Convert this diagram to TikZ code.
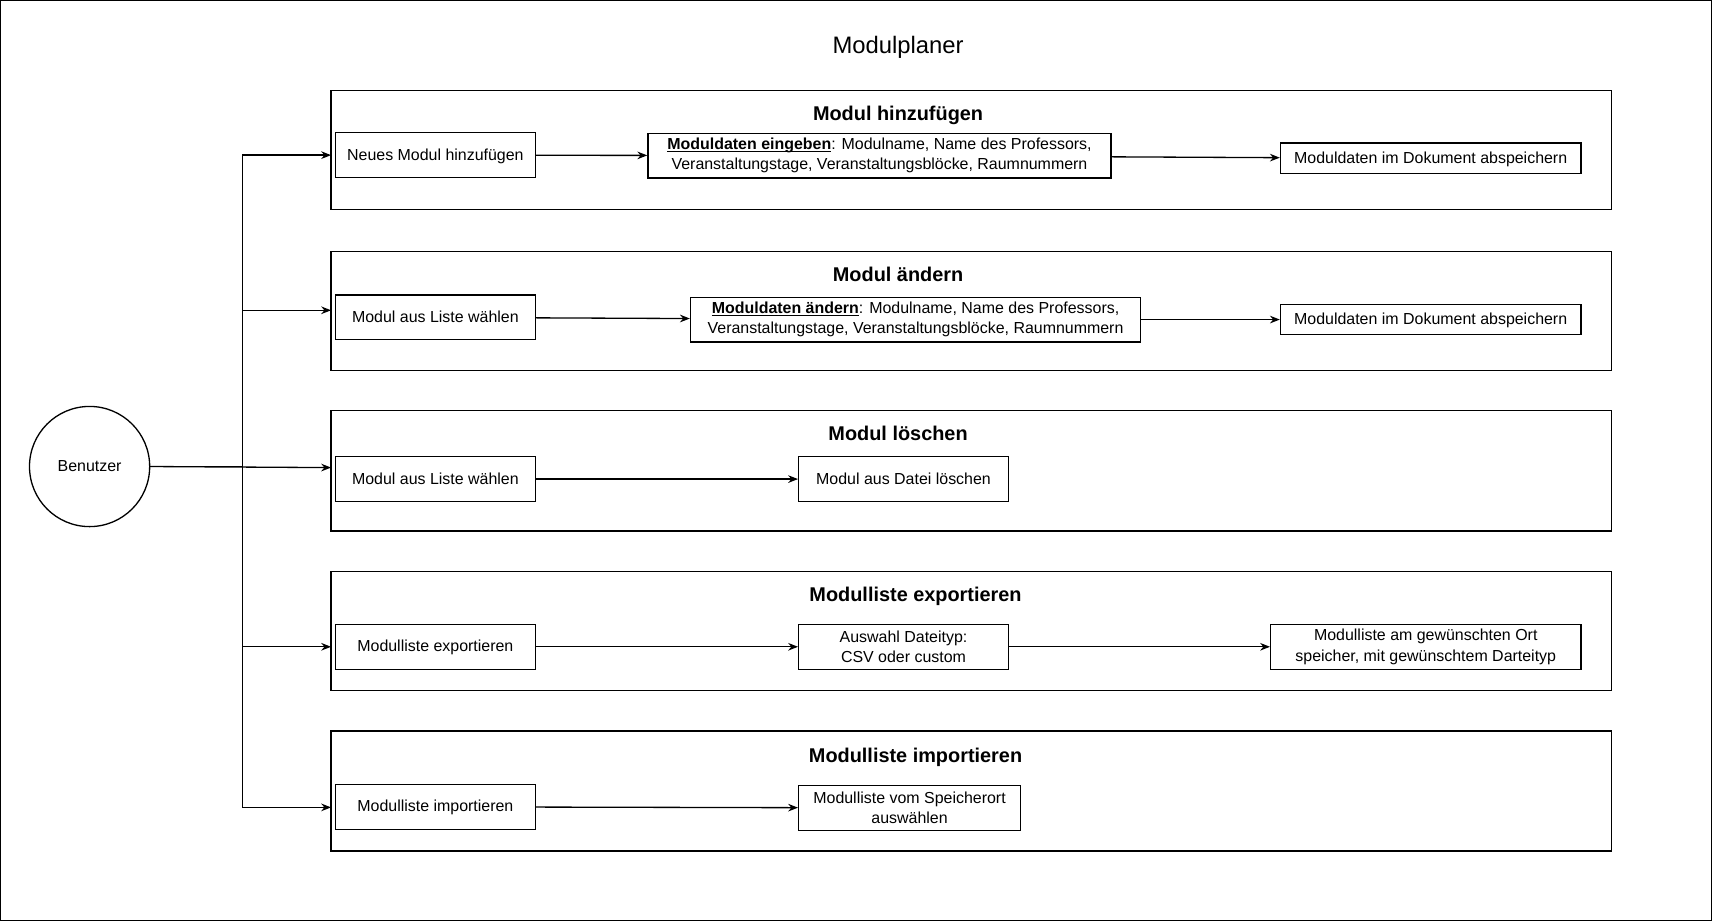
\documentclass[tikz,border=0pt]{standalone}
\usepackage{fontspec}
\setmainfont{Liberation Sans}
\usetikzlibrary{shapes, calc, arrows.meta, positioning}

\newcommand\ulbold[1]{\underline{\smash{\textbf{#1}}}}
\newcommand\topstrut{\rule{0pt}{14.5pt}}

\begin{document}
\begin{tikzpicture}[x=1pt, y=-1pt, line width=1.2pt, >={Stealth[length=9pt, width=7pt]},
    font=\fontsize{14.6}{18.5}\selectfont,
    box/.style={draw, rectangle, inner sep=0pt, align=center, minimum width=183pt, minimum height=41pt,
                execute at begin node=\topstrut},
    oneline/.style={text height=0.92em, text depth=0pt},
    sectitle/.style={font=\fontsize{18.2}{22}\selectfont\bfseries, oneline}]
    \useasboundingbox (0,0) rectangle (1567,843);
    \draw (0.7,0.7) rectangle (1566.3,842.3);

    \coordinate (a01) at ( 303, 83);
    \coordinate (a02) at (1475,192);
    \coordinate (a03) at ( 303,230);
    \coordinate (a04) at (1475,339);
    \coordinate (a05) at ( 303,376);
    \coordinate (a06) at (1475,486);
    \coordinate (a07) at ( 303,523);
    \coordinate (a08) at (1475,632);
    \coordinate (a09) at ( 303,669);
    \coordinate (a10) at (1475,779);

    \coordinate (e1) at (303,142);
    \coordinate (e2) at (303,284);
    \coordinate (e3) at (303,428);
    \coordinate (e4) at (303,592);
    \coordinate (e5) at (303,739);
    \coordinate (k)  at (222,427);

    \draw (a01) rectangle (a02);
    \draw (a03) rectangle (a04);
    \draw (a05) rectangle (a06);
    \draw (a07) rectangle (a08);
    \draw (a09) rectangle (a10);

    \node[font=\fontsize{21.8}{26}\selectfont, oneline] (title) at (822,44) {Modulplaner};
    \node[sectitle] (t1) at (822,106) {Modul hinzufügen};
    \node[sectitle] (t2) at (822,253) {Modul ändern};
    \node[sectitle] (t3) at (822,399) {Modul löschen};
    \node[sectitle] (t4) at (838,546) {Modulliste exportieren};
    \node[sectitle] (t5) at (838,693) {Modulliste importieren};

    \node[draw, circle, minimum size=110pt, inner sep=0pt, oneline] (ben) at (82,427) {Benutzer};

    \node[box, oneline] (n11) at (398.5,142) {Neues Modul hinzufügen};
    \node[box, minimum width=424pt] (n12) at (805,142.5) {\ulbold{Moduldaten eingeben}: Modulname, Name des Professors,\\ Veranstaltungstage, Veranstaltungsblöcke, Raumnummern};
    \node[box, oneline, minimum width=275pt, minimum height=28pt] (n13) at (1309.5,145) {Moduldaten im Dokument abspeichern};

    \node[box, oneline] (n21) at (398.5,290.5) {Modul aus Liste wählen};
    \node[box, minimum width=412pt] (n22) at (838,292.5) {\ulbold{Moduldaten ändern}: Modulname, Name des Professors,\\ Veranstaltungstage, Veranstaltungsblöcke, Raumnummern};
    \node[box, oneline, minimum width=275pt, minimum height=27pt] (n23) at (1309.5,292.5) {Moduldaten im Dokument abspeichern};

    \node[box, oneline] (n31) at (398.5,438.5) {Modul aus Liste wählen};
    \node[box, oneline, minimum width=192pt] (n32) at (827,438.5) {Modul aus Datei löschen};

    \node[box, oneline] (n41) at (398.5,592) {Modulliste exportieren};
    \node[box, minimum width=192pt] (n42) at (827,592) {Auswahl Dateityp:\\ CSV oder custom};
    \node[box, minimum width=284pt] (n43) at (1305,592) {Modulliste am gewünschten Ort\\ speicher, mit gewünschtem Darteityp};

    \node[box, oneline] (n51) at (398.5,738.5) {Modulliste importieren};
    \node[box, minimum width=203pt] (n52) at (832.5,739.5) {Modulliste vom Speicherort\\ auswählen};

    % Benutzer to the five sections
    \draw[->] (ben.east) -- (k) |- (e1);
    \draw[->] (ben.east) -- (k) |- (e2);
    \draw[->] (ben.east) -- (e3);
    \draw[->] (ben.east) -- (k) |- (e4);
    \draw[->] (ben.east) -- (k) |- (e5);

    \draw[->] (n11) -- (n12);
    \draw[->] (n12) -- (n13);
    \draw[->] (n21) -- (n22);
    \draw[->] (n22) -- (n23);
    \draw[->] (n31) -- (n32);
    \draw[->] (n41) -- (n42);
    \draw[->] (n42) -- (n43);
    \draw[->] (n51) -- (n52);
  \end{tikzpicture}
\end{document}
